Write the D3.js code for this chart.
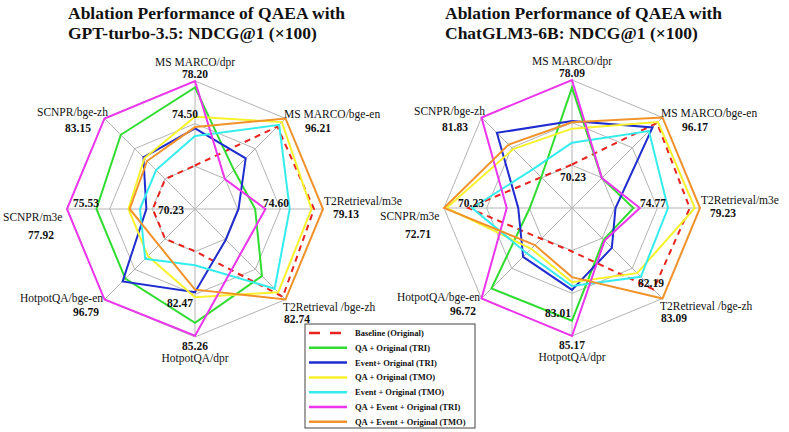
<!DOCTYPE html>
<html>
<head>
<meta charset="utf-8">
<script src="https://cdn.jsdelivr.net/npm/d3@7"></script>
<style>
    body { margin: 0; background: #fff; }
    text { font-family: "Liberation Serif", "Times New Roman", Times, serif; fill: #111; }
    .title { font-size: 17.5px; font-weight: bold; }
    .axis-name { font-size: 11.5px; }
    .axis-value, .note { font-size: 11.5px; font-weight: bold; }
    .legend-text { font-size: 8.5px; font-weight: bold; }
</style>
</head>
<body>
<script>
// axis order goes clockwise from the top
const axes = ["MS MARCO/dpr", "MS MARCO/bge-en", "T2Retrieval/m3e", "T2Retrieval /bge-zh",
    "HotpotQA/dpr", "HotpotQA/bge-en", "SCNPR/m3e", "SCNPR/bge-zh"]

const seriesNames = ["Baseline (Original)", "QA + Original (TRI)", "Event+ Original (TRI)",
    "QA + Original (TMO)", "Event + Original (TMO)", "QA + Event + Original (TRI)",
    "QA + Event + Original (TMO)"]

// NDCG@1 per axis, as a share of the outer ring (1 = best value of the axis)
const gptBaseline = [0.34, 0.91, 0.93, 0.97, 0.33, 0.33, 0.33, 0.33]
const gptQaTri = [0.95, 0.43, 0.47, 0.74, 0.89, 0.77, 0.77, 0.82]
const gptEventTri = [0.63, 0.56, 0.34, 0.34, 0.65, 0.80, 0.38, 0.57]
const gptQaTmo = [0.72, 0.96, 0.91, 0.92, 0.69, 0.52, 0.52, 0.56]
const gptEventTmo = [0.57, 0.93, 0.74, 0.88, 0.44, 0.55, 0.43, 0.43]
const gptAllTri = [1.00, 0.33, 0.55, 0.50, 0.99, 1.00, 1.00, 1.00]
const gptAllTmo = [0.64, 1.00, 1.00, 1.00, 0.63, 0.40, 0.51, 0.53]

const glmBaseline = [0.34, 0.94, 0.92, 0.90, 0.34, 0.34, 0.81, 0.34]
const glmQaTri = [0.94, 0.33, 0.48, 0.35, 0.88, 0.89, 0.33, 0.34]
const glmEventTri = [0.68, 0.89, 0.34, 0.44, 0.64, 0.54, 0.42, 0.83]
const glmQaTmo = [0.62, 0.95, 0.96, 0.72, 0.58, 0.45, 0.98, 0.65]
const glmEventTmo = [0.51, 0.85, 0.75, 0.76, 0.61, 0.50, 0.78, 0.43]
const glmAllTri = [1.00, 0.33, 0.53, 0.36, 1.00, 1.00, 0.51, 1.00]
const glmAllTmo = [0.67, 1.00, 1.00, 1.00, 0.54, 0.41, 1.00, 0.70]

// labels printed at the outer end of each axis
const gptMax = ["78.20", "96.21", "79.13", "82.74", "85.26", "96.79", "77.92", "83.15"]
const glmMax = ["78.09", "96.17", "79.23", "83.09", "85.17", "96.72", "72.71", "81.83"]

// extra values printed inside the web
const gptNotes = ["74.50", "74.60", "70.23", "82.47", "75.53"]
const glmNotes = ["70.23", "70.23", "74.77", "82.19", "83.01"]

const gridLevels = [1 / 3, 2 / 3, 1]

const WIDTH = 789
const HEIGHT = 432
const RADIUS = 128

const COLORS = ["#e8231e", "#2fdc2f", "#1f2ccf", "#f7f22c", "#35ecec", "#ec35ec", "#f2922a"]

// label placement relative to the centre: [dx, dy, anchor]
const NAME_POS = [[0, -143, "middle"], [89, -91, "start"], [129, -4, "start"], [88, 102, "start"],
    [0, 153, "middle"], [-92, 93, "end"], [-192, 12, "start"], [-158, -93, "start"]]
const VALUE_POS = [[0, -131, "middle"], [123, -77, "middle"], [151, 9, "middle"], [102, 114, "middle"],
    [0, 141, "middle"], [-109, 107, "middle"], [-154, 30, "middle"], [-117, -77, "middle"]]
const GPT_NOTE_POS = [[-10, -91], [81, -2], [-24, 5], [-15, 98], [-109, -2]]
const GLM_NOTE_POS = [[1, -27], [-101, -1], [81, -1], [79, 79], [-14, 109]]

const svg = d3.select("body")
    .append("svg")
    .attr("width", WIDTH)
    .attr("height", HEIGHT)

const r = d3.scaleLinear().domain([0, 1]).range([0, RADIUS])
const angle = d3.scaleLinear().domain([0, axes.length]).range([0, 2 * Math.PI])

const line = d3.lineRadial()
    .angle((d, i) => angle(i))
    .radius(d => r(d))
    .curve(d3.curveLinearClosed)

const drawRadar = (cx, cy, titleLines, series, maxLabels, notes, notePos) => {
    const g = svg.append("g")
        .attr("transform", "translate(" + cx + "," + cy + ")")

    // grid rings and spokes
    g.selectAll(".ring")
        .data(gridLevels)
        .enter()
        .append("path")
        .attr("class", "ring")
        .attr("d", lv => line(axes.map(() => lv)))
        .attr("fill", "none")
        .attr("stroke", "#b4b4b4")
        .attr("stroke-width", 1)

    g.selectAll(".spoke")
        .data(axes)
        .enter()
        .append("line")
        .attr("class", "spoke")
        .attr("x1", 0)
        .attr("y1", 0)
        .attr("x2", (d, i) => r(1) * Math.sin(angle(i)))
        .attr("y2", (d, i) => -r(1) * Math.cos(angle(i)))
        .attr("stroke", "#b4b4b4")
        .attr("stroke-width", 1)

    g.selectAll(".series")
        .data(series)
        .enter()
        .append("path")
        .attr("class", "series")
        .attr("d", d => line(d))
        .attr("fill", "none")
        .attr("stroke", (d, i) => COLORS[i])
        .attr("stroke-width", 2)
        .attr("stroke-dasharray", (d, i) => i === 0 ? "6,5" : null)

    g.selectAll(".axis-name")
        .data(axes)
        .enter()
        .append("text")
        .attr("class", "axis-name")
        .attr("x", (d, i) => NAME_POS[i][0])
        .attr("y", (d, i) => NAME_POS[i][1])
        .attr("text-anchor", (d, i) => NAME_POS[i][2])
        .text(d => d)

    g.selectAll(".axis-value")
        .data(maxLabels)
        .enter()
        .append("text")
        .attr("class", "axis-value")
        .attr("x", (d, i) => VALUE_POS[i][0])
        .attr("y", (d, i) => VALUE_POS[i][1])
        .attr("text-anchor", (d, i) => VALUE_POS[i][2])
        .text(d => d)

    g.selectAll(".note")
        .data(notes)
        .enter()
        .append("text")
        .attr("class", "note")
        .attr("x", (d, i) => notePos[i][0])
        .attr("y", (d, i) => notePos[i][1])
        .attr("text-anchor", "middle")
        .text(d => d)

    svg.append("g")
        .selectAll("text")
        .data(titleLines)
        .enter()
        .append("text")
        .attr("class", "title")
        .attr("x", cx - 127)
        .attr("y", (d, i) => 19 + i * 20)
        .text(d => d)
}

drawRadar(195, 209,
    ["Ablation Performance of QAEA with", "GPT-turbo-3.5: NDCG@1 (\u00d7100)"],
    [gptBaseline, gptQaTri, gptEventTri, gptQaTmo, gptEventTmo, gptAllTri, gptAllTmo],
    gptMax, gptNotes, GPT_NOTE_POS)

drawRadar(572, 208,
    ["Ablation Performance of QAEA with", "ChatGLM3-6B: NDCG@1 (\u00d7100)"],
    [glmBaseline, glmQaTri, glmEventTri, glmQaTmo, glmEventTmo, glmAllTri, glmAllTmo],
    glmMax, glmNotes, GLM_NOTE_POS)

// legend
const legend = svg.append("g")
    .attr("transform", "translate(305, 324)")

legend.append("rect")
    .attr("width", 170)
    .attr("height", 104)
    .attr("fill", "#fff")
    .attr("stroke", "#444")
    .attr("stroke-width", 1)

const rows = legend.selectAll(".row")
    .data(seriesNames)
    .enter()
    .append("g")
    .attr("class", "row")
    .attr("transform", (d, i) => "translate(0," + (9 + i * 14.8) + ")")

rows.append("line")
    .attr("x1", 4)
    .attr("x2", (d, i) => i === 0 ? 36 : 42)
    .attr("stroke", (d, i) => COLORS[i])
    .attr("stroke-width", 2.5)
    .attr("stroke-dasharray", (d, i) => i === 0 ? "11,10" : null)

rows.append("text")
    .attr("class", "legend-text")
    .attr("x", 50)
    .attr("y", 3)
    .text(d => d)
</script>
</body>
</html>
